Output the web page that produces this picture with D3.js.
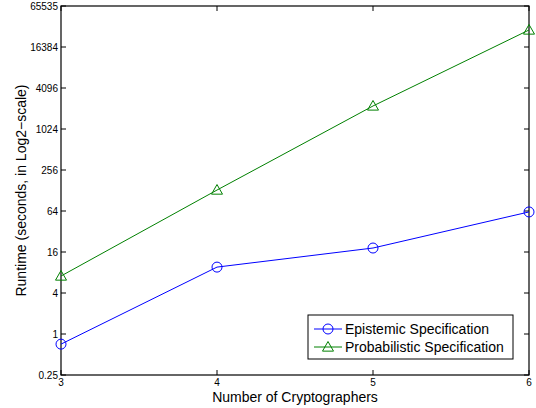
<!DOCTYPE html>
<html>
<head>
<meta charset="utf-8">
<script src="https://cdn.jsdelivr.net/npm/d3@7"></script>
<style>
  body { margin: 0; background: #fff; }
  text { font-family: "Liberation Sans", Arial, sans-serif; }
</style>
</head>
<body>
<svg id="chart" width="536" height="408"></svg>
<script>
// data
var cryptographers = [3, 4, 5, 6];
var epistemic = [0.71, 9.6, 18.3, 62];
var probabilistic = [7.1, 130, 2230, 29100];
var yTicks = [0.25, 1, 4, 16, 64, 256, 1024, 4096, 16384, 65536];
var yTickLabels = ['0.25', '1', '4', '16', '64', '256', '1024', '4096', '16384', '65535'];
var seriesNames = ['Epistemic Specification', 'Probabilistic Specification'];

var svg = d3.select('#chart');
var pLeft = 61, pRight = 529, pTop = 6, pBottom = 375;

var x = d3.scaleLinear().domain([3, 6]).range([pLeft, pRight]);
var y = d3.scaleLog().base(2).domain([0.25, 65536]).range([pBottom, pTop]);

// ticks (inside, mirrored)
var tl = 5;
yTicks.forEach(function(t, i) {
  svg.append('line').attr('x1', pLeft).attr('x2', pLeft + tl)
    .attr('y1', y(t)).attr('y2', y(t)).attr('stroke', '#000');
  svg.append('line').attr('x1', pRight).attr('x2', pRight - tl)
    .attr('y1', y(t)).attr('y2', y(t)).attr('stroke', '#000');
  svg.append('text').attr('x', pLeft - 3).attr('y', y(t) + 3.5)
    .attr('text-anchor', 'end').attr('font-size', 10).text(yTickLabels[i]);
});
cryptographers.forEach(function(c) {
  svg.append('line').attr('x1', x(c)).attr('x2', x(c))
    .attr('y1', pBottom).attr('y2', pBottom - tl).attr('stroke', '#000');
  svg.append('line').attr('x1', x(c)).attr('x2', x(c))
    .attr('y1', pTop).attr('y2', pTop + tl).attr('stroke', '#000');
  svg.append('text').attr('x', x(c)).attr('y', pBottom + 11)
    .attr('text-anchor', 'middle').attr('font-size', 10).text(c);
});

// box
svg.append('rect').attr('x', pLeft).attr('y', pTop)
  .attr('width', pRight - pLeft).attr('height', pBottom - pTop)
  .attr('fill', 'none').attr('stroke', '#000').attr('stroke-width', 1.2);

var line = d3.line()
  .x(function(d, i) { return x(cryptographers[i]); })
  .y(function(d) { return y(d); });

function triangle(cx, cy, s) {
  return 'M' + cx + ',' + (cy - s) + 'L' + (cx + s) + ',' + (cy + s * 0.75) +
    'L' + (cx - s) + ',' + (cy + s * 0.75) + 'Z';
}

svg.append('path').datum(epistemic).attr('d', line)
  .attr('fill', 'none').attr('stroke', '#0000ff').attr('stroke-width', 1);
svg.selectAll('.ep').data(epistemic).enter().append('circle')
  .attr('cx', function(d, i) { return x(cryptographers[i]); })
  .attr('cy', function(d) { return y(d); })
  .attr('r', 5).attr('fill', 'none').attr('stroke', '#0000ff');

svg.append('path').datum(probabilistic).attr('d', line)
  .attr('fill', 'none').attr('stroke', '#008000').attr('stroke-width', 1);
svg.selectAll('.pr').data(probabilistic).enter().append('path')
  .attr('d', function(d, i) { return triangle(x(cryptographers[i]), y(d), 5.5); })
  .attr('fill', 'none').attr('stroke', '#008000');

// axis labels
svg.append('text').attr('x', (pLeft + pRight) / 2).attr('y', 402)
  .attr('text-anchor', 'middle').attr('font-size', 14).text('Number of Cryptographers');
svg.append('text').attr('transform', 'translate(26,' + ((pTop + pBottom) / 2) + ') rotate(-90)')
  .attr('text-anchor', 'middle').attr('font-size', 14).text('Runtime (seconds, in Log2\u2212scale)');

// legend
var lg = svg.append('g');
lg.append('rect').attr('x', 308).attr('y', 315).attr('width', 205).attr('height', 44)
  .attr('fill', '#fff').attr('stroke', '#000');
var colors = ['#0000ff', '#008000'];
seriesNames.forEach(function(n, i) {
  var ly = 329 + i * 18;
  lg.append('line').attr('x1', 314).attr('x2', 342).attr('y1', ly).attr('y2', ly)
    .attr('stroke', colors[i]);
  if (i === 0) {
    lg.append('circle').attr('cx', 328).attr('cy', ly).attr('r', 5)
      .attr('fill', 'none').attr('stroke', colors[i]);
  } else {
    lg.append('path').attr('d', triangle(328, ly, 5.5))
      .attr('fill', 'none').attr('stroke', colors[i]);
  }
  lg.append('text').attr('x', 345).attr('y', ly + 5).attr('font-size', 14).text(n);
});
</script>
</body>
</html>
